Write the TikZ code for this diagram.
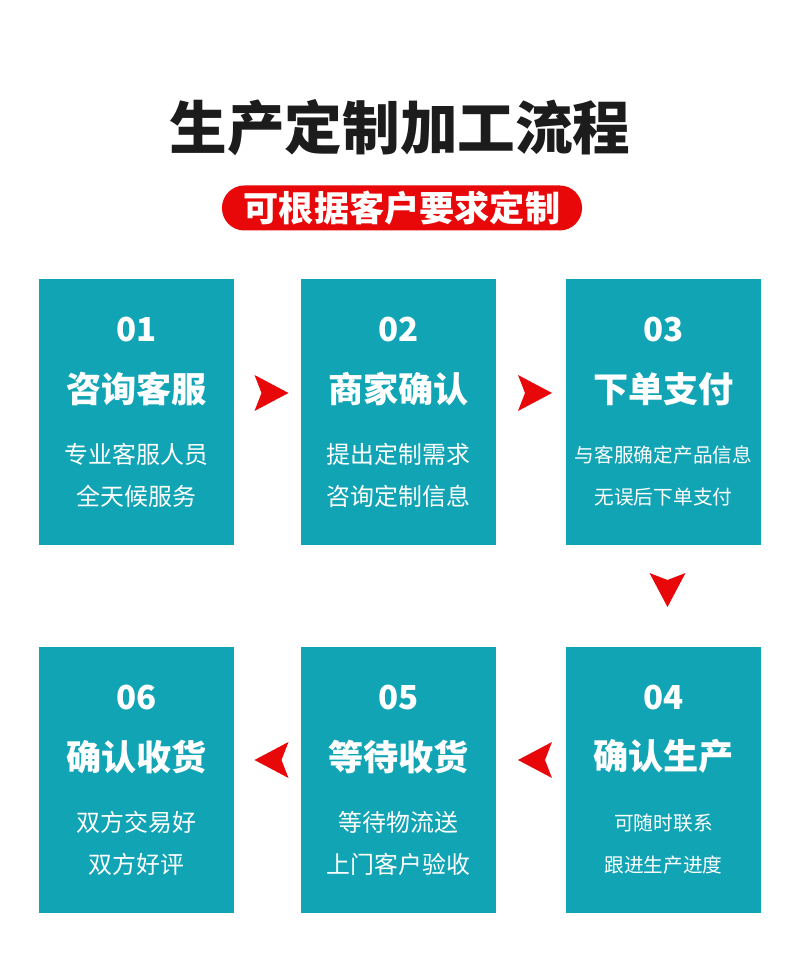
\documentclass[tikz,border=0pt]{standalone}
\usepackage{fontspec}
\newfontfamily\cjk{Noto Sans CJK SC}
\usetikzlibrary{calc}
\definecolor{cardteal}{RGB}{17,164,181}
\definecolor{flowred}{RGB}{232,8,10}
\definecolor{titleink}{RGB}{28,28,28}

\tikzset{
  card/.style={fill=cardteal, minimum width=4.875cm, minimum height=6.65cm, inner sep=0pt},
  pill/.style={fill=flowred, text=white, rounded corners=0.56cm, minimum width=9cm,
    minimum height=1.125cm, font=\cjk\bfseries\fontsize{25}{25}\selectfont},
  numtext/.style={text=white, font=\cjk\bfseries\fontsize{23.5}{23.5}\selectfont},
  headtext/.style={text=white, font=\cjk\bfseries\fontsize{25}{25}\selectfont},
  subtext/.style={text=white, font=\cjk\fontsize{17}{17}\selectfont},
  subsmall/.style={text=white, font=\cjk\fontsize{14}{14}\selectfont},
  chevron/.style={fill=flowred},
}

% text of one card: name, number, head, two lines, style of the lines
\newcommand{\cardtext}[6]{%
  \node[numtext] (#1n) at ($(#1.north)+(0,-51)$) {#2};
  \node[headtext] (#1h) at ($(#1.north)+(0,-110)$) {#3};
  \node[#6] (#1a) at ($(#1.north)+(0,-176)$) {#4};
  \node[#6] (#1b) at ($(#1.north)+(0,-218)$) {#5};
}
\newcommand{\chevronat}[2]{%
  \fill[chevron, shift={(#1)}, rotate=#2] (-17,18) -- (17,0) -- (-17,-18) -- (-10,0) -- cycle;
}

\begin{document}
\begin{tikzpicture}[x=0.025cm, y=0.025cm]
  \useasboundingbox[fill=white] (0,0) rectangle (800,966);

  \node[text=titleink, font=\cjk\bfseries\fontsize{41}{41}\selectfont] (title) at (400,838) {生产定制加工流程};
  \node[pill] (tag) at (402,758) {可根据客户要求定制};

  % cards
  \node[card] (c1) at (136.5,554) {};
  \node[card] (c2) at (398.5,554) {};
  \node[card] (c3) at (663.5,554) {};
  \node[card] (c4) at (663.5,186) {};
  \node[card] (c5) at (398.5,186) {};
  \node[card] (c6) at (136.5,186) {};

  \cardtext{c1}{01}{咨询客服}{专业客服人员}{全天候服务}{subtext}
  \cardtext{c2}{02}{商家确认}{提出定制需求}{咨询定制信息}{subtext}
  \cardtext{c3}{03}{下单支付}{与客服确定产品信息}{无误后下单支付}{subsmall}
  \cardtext{c4}{04}{确认生产}{可随时联系}{跟进生产进度}{subsmall}
  \cardtext{c5}{05}{等待收货}{等待物流送}{上门客户验收}{subtext}
  \cardtext{c6}{06}{确认收货}{双方交易好}{双方好评}{subtext}

  % arrows between cards
  \coordinate (a12) at ($(c1.east)!.5!(c2.west)+(4,19)$);
  \coordinate (a23) at ($(c2.east)!.5!(c3.west)+(4,19)$);
  \coordinate (a34) at ($(c3.south)!.5!(c4.north)+(4,6)$);
  \coordinate (a45) at ($(c5.east)!.5!(c4.west)+(4,20)$);
  \coordinate (a56) at ($(c6.east)!.5!(c5.west)+(4,20)$);
  \chevronat{a12}{0}
  \chevronat{a23}{0}
  \chevronat{a34}{-90}
  \chevronat{a45}{180}
  \chevronat{a56}{180}
\end{tikzpicture}
\end{document}
